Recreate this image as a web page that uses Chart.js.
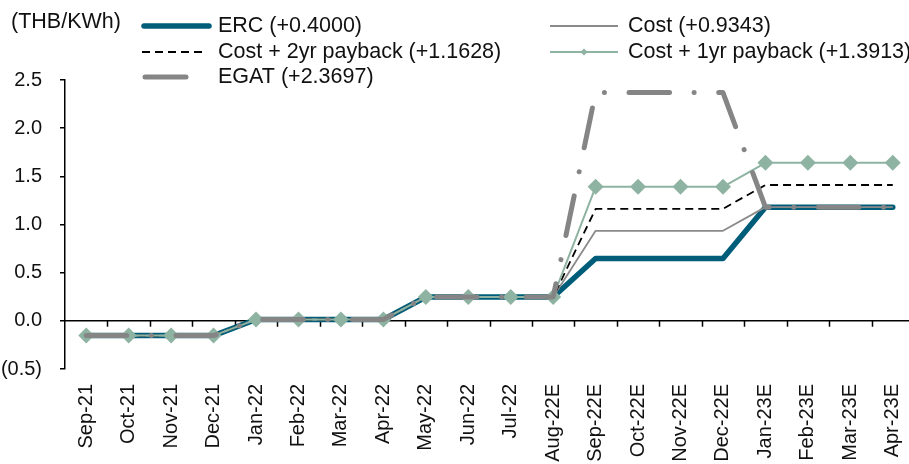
<!DOCTYPE html>
<html>
<head>
<meta charset="utf-8">
<script src="https://cdn.jsdelivr.net/npm/chart.js@4/dist/chart.umd.min.js"></script>
<style>
  html, body { margin: 0; padding: 0; background: #fff; overflow: hidden; }
  #wrap { width: 916px; height: 464px; }
</style>
</head>
<body>
<div id="wrap"><canvas id="c" width="916" height="464"></canvas></div>
<script>
// Ft scenarios, THB/kWh
const months = ['Sep-21','Oct-21','Nov-21','Dec-21','Jan-22','Feb-22','Mar-22','Apr-22',
  'May-22','Jun-22','Jul-22','Aug-22E','Sep-22E','Oct-22E','Nov-22E','Dec-22E',
  'Jan-23E','Feb-23E','Mar-23E','Apr-23E'];

const erc     = [-0.1532,-0.1532,-0.1532,-0.1532, 0.0139,0.0139,0.0139,0.0139,
                  0.2477,0.2477,0.2477,0.2477, 0.6477,0.6477,0.6477,0.6477, 1.18,1.18,1.18,1.18];
const cost    = [-0.1532,-0.1532,-0.1532,-0.1532, 0.0139,0.0139,0.0139,0.0139,
                  0.2477,0.2477,0.2477,0.2477, 0.9343,0.9343,0.9343,0.9343, 1.18,1.18,1.18,1.18];
const cost2yr = [-0.1532,-0.1532,-0.1532,-0.1532, 0.0139,0.0139,0.0139,0.0139,
                  0.2477,0.2477,0.2477,0.2477, 1.1628,1.1628,1.1628,1.1628, 1.41,1.41,1.41,1.41];
const cost1yr = [-0.1532,-0.1532,-0.1532,-0.1532, 0.0139,0.0139,0.0139,0.0139,
                  0.2477,0.2477,0.2477,0.2477, 1.3913,1.3913,1.3913,1.3913, 1.64,1.64,1.64,1.64];
const egat    = [-0.1532,-0.1532,-0.1532,-0.1532, 0.0139,0.0139,0.0139,0.0139,
                  0.2477,0.2477,0.2477,0.2477, 2.3697,2.3697,2.3697,2.3697, 1.18,1.18,1.18,1.18];

const seriesNames = {
  erc: 'ERC (+0.4000)',
  cost: 'Cost (+0.9343)',
  cost2yr: 'Cost + 2yr payback (+1.1628)',
  cost1yr: 'Cost + 1yr payback (+1.3913)',
  egat: 'EGAT (+2.3697)'
};
const yTicks = [-0.5, 0, 0.5, 1.0, 1.5, 2.0, 2.5];
const unitLabel = '(THB/KWh)';

const FONT = '"Liberation Sans", Arial, sans-serif';
const TEXT = '#111';

// x axis line at zero with category separators hanging below it
const zeroAxis = {
  id: 'zeroAxis',
  beforeDatasetsDraw(chart) {
    const { ctx, chartArea, scales: { x, y } } = chart;
    const y0 = y.getPixelForValue(0);
    ctx.save();
    ctx.strokeStyle = '#000';
    ctx.lineWidth = 1.5;
    ctx.beginPath();
    ctx.moveTo(chartArea.left, y0);
    ctx.lineTo(chartArea.right, y0);
    for (let i = 1; i < months.length; i++) {
      const bx = Math.round((x.getPixelForValue(i - 1) + x.getPixelForValue(i)) / 2) + 0.5;
      ctx.moveTo(bx, y0);
      ctx.lineTo(bx, y0 + 6);
    }
    ctx.stroke();
    ctx.restore();
  }
};

// unit caption and two-column legend
const keyPanel = {
  id: 'keyPanel',
  afterDraw(chart) {
    const ctx = chart.ctx;
    const ds = chart.data.datasets;
    const byKey = k => ds.find(d => d.key === k);
    ctx.save();
    ctx.fillStyle = TEXT;
    ctx.font = '21.5px ' + FONT;
    ctx.textBaseline = 'middle';
    ctx.textAlign = 'left';
    ctx.fillText(unitLabel, 11, 22);

    const slots = [
      { key: 'erc',     x0: 144, x1: 209, tx: 218, y: 26 },
      { key: 'cost',    x0: 550, x1: 618, tx: 628, y: 26 },
      { key: 'cost2yr', x0: 142, x1: 207, tx: 218, y: 52 },
      { key: 'cost1yr', x0: 550, x1: 618, tx: 628, y: 52 },
      { key: 'egat',    x0: 145, x1: 186, tx: 218, y: 77 }
    ];
    slots.forEach(s => {
      const d = byKey(s.key);
      ctx.save();
      ctx.strokeStyle = d.borderColor;
      ctx.lineWidth = d.borderWidth;
      ctx.lineCap = d.borderCapStyle || 'butt';
      ctx.setLineDash(s.key === 'cost2yr' ? d.borderDash : []);
      ctx.beginPath();
      ctx.moveTo(s.x0, s.y);
      ctx.lineTo(s.x1, s.y);
      ctx.stroke();
      if (s.key === 'cost1yr') {
        const cx = (s.x0 + s.x1) / 2, r = 3.5;
        ctx.fillStyle = d.pointBackgroundColor;
        ctx.beginPath();
        ctx.moveTo(cx, s.y - r); ctx.lineTo(cx + r, s.y);
        ctx.lineTo(cx, s.y + r); ctx.lineTo(cx - r, s.y);
        ctx.closePath(); ctx.fill();
      }
      ctx.restore();
      ctx.fillText(d.label, s.tx, s.y);
    });
    ctx.restore();
  }
};

const line = (key, data, style) => Object.assign({
  key, label: seriesNames[key], data,
  fill: false, tension: 0, pointRadius: 0, pointHoverRadius: 0,
  borderJoinStyle: 'round'
}, style);

new Chart(document.getElementById('c'), {
  type: 'line',
  data: {
    labels: months,
    // first dataset is painted on top
    datasets: [
      line('egat', egat, {
        borderColor: '#858585', borderWidth: 5, borderCapStyle: 'round',
        borderDash: [40.5, 24.6, 0.01, 24.6], borderDashOffset: 0
      }),
      line('cost1yr', cost1yr, {
        borderColor: '#8fb3a2', borderWidth: 2,
        pointStyle: 'rectRot', pointRadius: 8, pointBackgroundColor: '#8fb3a2',
        pointBorderColor: '#8fb3a2', pointBorderWidth: 0
      }),
      line('cost2yr', cost2yr, {
        borderColor: '#000', borderWidth: 1.8, borderDash: [8, 5]
      }),
      line('cost', cost, {
        borderColor: '#8a8a8a', borderWidth: 1.8
      }),
      line('erc', erc, {
        borderColor: '#005d7a', borderWidth: 5.5, borderCapStyle: 'round'
      })
    ]
  },
  options: {
    responsive: false,
    animation: false,
    devicePixelRatio: 1,
    layout: { padding: { top: 80, left: 0, right: 2, bottom: 0 }, autoPadding: false },
    plugins: { legend: { display: false }, tooltip: { enabled: false } },
    scales: {
      x: {
        type: 'category',
        offset: true,
        grid: { display: false, drawTicks: false },
        border: { display: false },
        ticks: {
          autoSkip: false, maxRotation: 90, minRotation: 90, padding: 15,
          color: TEXT, font: { family: FONT, size: 20 }
        },
        afterFit(s) { s.height = 95; s.paddingLeft = 0; s.paddingRight = 0; }
      },
      y: {
        min: -0.5, max: 2.5,
        afterBuildTicks(s) { s.ticks = yTicks.map(v => ({ value: v })); },
        grid: { drawOnChartArea: false, drawTicks: true, tickLength: 5, color: '#000', lineWidth: 1.5 },
        border: { display: true, color: '#000', width: 1.5 },
        ticks: {
          padding: 18, color: TEXT, font: { family: FONT, size: 20 },
          callback: v => v < 0 ? '(' + Math.abs(v).toFixed(1) + ')' : v.toFixed(1)
        },
        afterFit(s) { s.width = 65; s.paddingTop = 0; s.paddingBottom = 0; }
      }
    }
  },
  plugins: [zeroAxis, keyPanel]
});
</script>
</body>
</html>
